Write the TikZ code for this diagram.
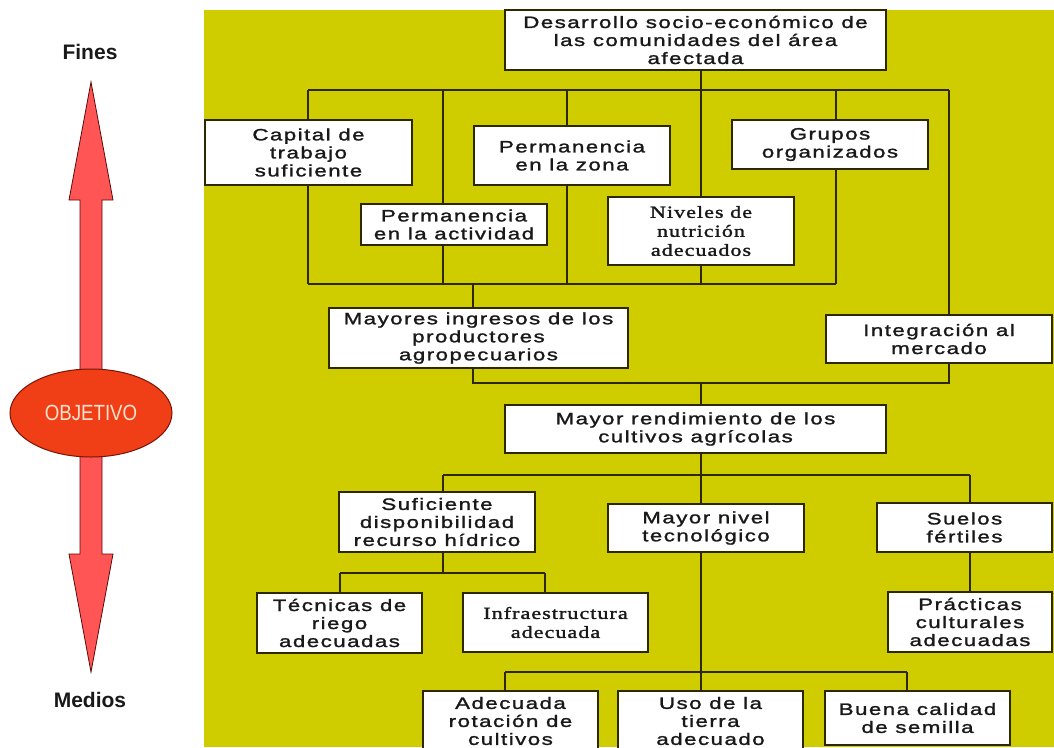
\documentclass[tikz,border=0pt]{standalone}
\usepackage{fontspec}
\setmainfont{Liberation Sans}
\newfontfamily\boxsans[FakeStretch=1.35,LetterSpace=9,FakeBold=1.5]{Liberation Sans}
\newfontfamily\boxserif[FakeStretch=1.3,LetterSpace=6,FakeBold=1.6]{Liberation Serif}
\newfontfamily\ovalfont[FakeStretch=0.85]{Liberation Sans}
\usetikzlibrary{shapes.geometric}
\pgfdeclarelayer{bg}
\pgfdeclarelayer{wires}
\pgfsetlayers{bg,wires,main}

\definecolor{panel}{RGB}{207,204,0}
\definecolor{wirecol}{RGB}{45,40,0}
\definecolor{arrowred}{RGB}{255,85,85}
\definecolor{arrowedge}{RGB}{90,10,10}
\definecolor{ovalred}{RGB}{240,62,22}
\definecolor{ovaledge}{RGB}{120,20,5}
\definecolor{ovaltext}{RGB}{255,226,205}
\definecolor{inktext}{RGB}{25,25,25}

\tikzset{
  box/.style={draw=wirecol, line width=1.3pt, fill=white, inner sep=0pt,
    align=center, text=inktext, font=\boxsans\fontsize{16.5}{18}\selectfont},
  serifbox/.style={box, font=\boxserif\fontsize{17}{19}\selectfont},
  wire/.style={draw=wirecol, line width=1.6pt},
  sidelabel/.style={text=inktext, font=\bfseries\fontsize{21}{24}\selectfont},
}

\begin{document}
\begin{tikzpicture}[x=1pt,y=-1pt]
\useasboundingbox (0,0) rectangle (1054,747);

% panel behind the tree
\begin{pgfonlayer}{bg}
  \fill[white] (0,0) rectangle (1054,747);
  \fill[panel] (204,10) rectangle (1054,747);
\end{pgfonlayer}

% ends / means axis
\node[sidelabel] (fines) at (90,52) {Fines};
\node[sidelabel] (medios) at (90,700) {Medios};
\draw[fill=arrowred, draw=arrowedge, line width=0.8pt, line join=miter]
  (91,82) -- (113,200) -- (102,200) -- (102,554) -- (113,554) -- (91,672)
  -- (69,554) -- (80,554) -- (80,200) -- (69,200) -- cycle;
\node[ellipse, fill=ovalred, draw=ovaledge, line width=1pt, minimum width=162pt,
  minimum height=88pt, inner sep=0pt, text=ovaltext,
  font=\ovalfont\fontsize{22}{24}\selectfont] (obj) at (91,413) {OBJETIVO};

% tree of objectives
\node[box, minimum width=381pt, minimum height=60pt] (title) at (695.5,40)
  {Desarrollo socio-económico de\\las comunidades del área\\afectada};
\node[box, minimum width=207pt, minimum height=65pt] (capital) at (308.5,152.5)
  {Capital de\\trabajo\\suficiente};
\node[box, minimum width=196pt, minimum height=59pt] (permzona) at (572,155.5)
  {Permanencia\\en la zona};
\node[box, minimum width=196pt, minimum height=49pt] (grupos) at (830,144.5)
  {Grupos\\organizados};
\node[box, minimum width=186pt, minimum height=41pt] (permact) at (454,224.5)
  {Permanencia\\en la actividad};
\node[serifbox, minimum width=186pt, minimum height=68pt] (niveles) at (701,231)
  {Niveles de\\nutrición\\adecuados};
\node[box, minimum width=299pt, minimum height=60pt] (mayores) at (478.5,338)
  {Mayores ingresos de los\\productores\\agropecuarios};
\node[box, minimum width=226pt, minimum height=48pt] (integ) at (939,339)
  {Integración al\\mercado};
\node[box, minimum width=381pt, minimum height=48pt] (rend) at (695.5,429)
  {Mayor rendimiento de los\\cultivos agrícolas};
\node[box, minimum width=196pt, minimum height=60pt] (sufic) at (437,522)
  {Suficiente\\disponibilidad\\recurso hídrico};
\node[box, minimum width=196pt, minimum height=48pt] (nivel) at (706,528)
  {Mayor nivel\\tecnológico};
\node[box, minimum width=175pt, minimum height=49pt] (suelos) at (964.5,527.5)
  {Suelos\\fértiles};
\node[box, minimum width=165pt, minimum height=60pt] (tecnicas) at (339.5,623)
  {Técnicas de\\riego\\adecuadas};
\node[serifbox, minimum width=185pt, minimum height=59pt] (infra) at (555.5,622.5)
  {Infraestructura\\adecuada};
\node[box, minimum width=164pt, minimum height=60pt] (practicas) at (970,622)
  {Prácticas\\culturales\\adecuadas};
\node[box, minimum width=175pt, minimum height=60pt] (adecuada) at (510.5,721)
  {Adecuada\\rotación de\\cultivos};
\node[box, minimum width=185pt, minimum height=60pt] (uso) at (710.5,721)
  {Uso de la\\tierra\\adecuado};
\node[box, minimum width=185pt, minimum height=54pt] (buena) at (917.5,718)
  {Buena calidad\\de semilla};

% junction points of the connector buses
\coordinate (t1) at (701,90);
\coordinate (b1w) at (308,90);
\coordinate (b1e) at (949,90);
\coordinate (c2) at (443,90);
\coordinate (c3) at (567,90);
\coordinate (c5) at (836,90);
\coordinate (d1) at (308,284);
\coordinate (d2) at (443,284);
\coordinate (d3) at (567,284);
\coordinate (d4) at (701,284);
\coordinate (d5) at (836,284);
\coordinate (d6) at (473,284);
\coordinate (e1) at (473,383);
\coordinate (e2) at (701,383);
\coordinate (e3) at (949,383);
\coordinate (f1) at (443,475);
\coordinate (f2) at (701,475);
\coordinate (f3) at (970,475);
\coordinate (g1) at (340,573);
\coordinate (g2) at (443,573);
\coordinate (g3) at (545,573);
\coordinate (h1) at (505,672);
\coordinate (h3) at (907,672);

\begin{pgfonlayer}{wires}
  \draw[wire] (title.south -| t1) -- (t1);
  \draw[wire] (b1w) -- (b1e);
  \draw[wire] (b1w) -- (d1);
  \draw[wire] (c2) -- (d2);
  \draw[wire] (c3) -- (d3);
  \draw[wire] (t1) -- (d4);
  \draw[wire] (c5) -- (d5);
  \draw[wire] (d1) -- (d5);
  \draw[wire] (d6) -- (mayores.north -| d6);
  \draw[wire] (b1e) -- (integ.north -| b1e);
  \draw[wire] (mayores.south -| e1) -- (e1) -- (e3) -- (integ.south -| e3);
  \draw[wire] (e2) -- (rend.north -| e2);
  \draw[wire] (rend.south -| f2) -- (f2);
  \draw[wire] (f1) -- (f3);
  \draw[wire] (f1) -- (sufic.north -| f1);
  \draw[wire] (f2) -- (uso.north -| f2);
  \draw[wire] (f3) -- (suelos.north -| f3);
  \draw[wire] (suelos.south -| f3) -- (practicas.north -| f3);
  \draw[wire] (sufic.south -| g2) -- (g2);
  \draw[wire] (g1) -- (g3);
  \draw[wire] (g1) -- (tecnicas.north -| g1);
  \draw[wire] (g3) -- (infra.north -| g3);
  \draw[wire] (h1) -- (h3);
  \draw[wire] (h1) -- (adecuada.north -| h1);
  \draw[wire] (h3) -- (buena.north -| h3);
\end{pgfonlayer}
\end{tikzpicture}
\end{document}
